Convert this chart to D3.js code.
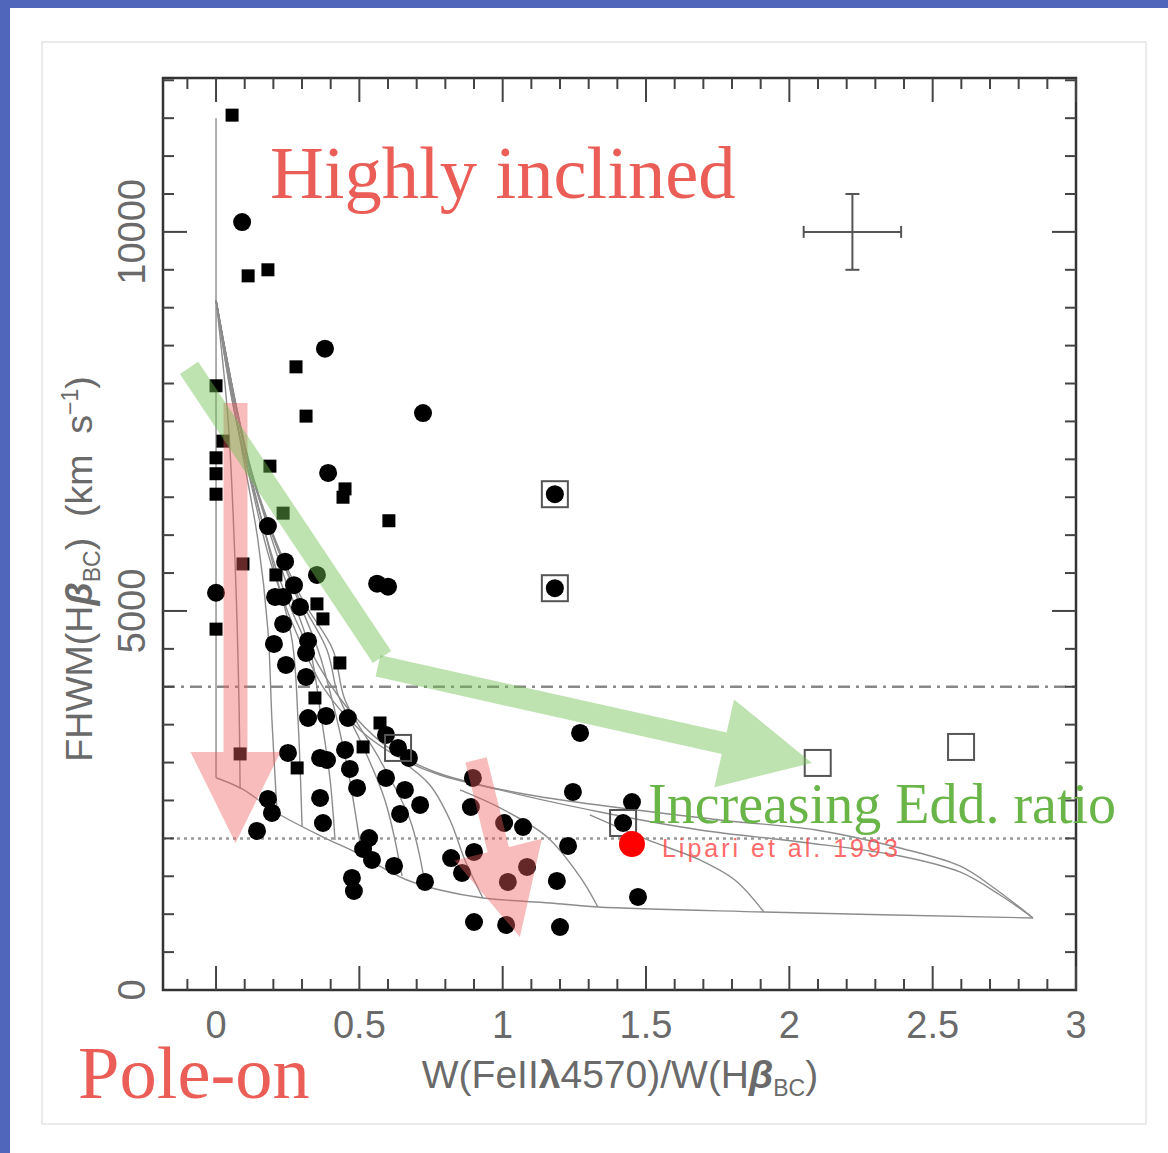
<!DOCTYPE html>
<html>
<head>
<meta charset="utf-8">
<script src="https://cdn.jsdelivr.net/npm/d3@7"></script>
<style>
  body { margin: 0; background: #fff; }
  text { white-space: pre; }
</style>
</head>
<body>
<script>
// values: x = W(FeII 4570)/W(Hb BC), y = FWHM(Hb BC) km/s
var squares = [
  [0.056, 11540], [0.112, 9420], [0.181, 9500], [0.279, 8220], [0.314, 7570],
  [0.0, 7970], [0.024, 7240], [0.0, 7020], [0.0, 6810], [0.0, 6540],
  [0.188, 6910], [0.234, 6290], [0.450, 6610], [0.443, 6500], [0.603, 6190],
  [0.094, 5620], [0.0, 4760], [0.209, 5475], [0.352, 5093], [0.373, 4895],
  [0.432, 4314], [0.345, 3852], [0.572, 3522], [0.513, 3206], [0.084, 3114],
  [0.283, 2929]
];

var circles = [
  [0.091, 10130], [0.380, 8460], [0.722, 7610], [0.391, 6820], [1.182, 6540],
  [1.182, 5300], [0.0, 5240], [0.181, 6120], [0.241, 5650], [0.352, 5475],
  [0.562, 5360], [0.600, 5320], [0.272, 5340], [0.206, 5185], [0.234, 5185],
  [0.293, 5053], [0.234, 4829], [0.202, 4565], [0.321, 4604], [0.314, 4446],
  [0.244, 4288], [0.314, 4129], [0.321, 3588], [0.384, 3615], [0.460, 3588],
  [0.593, 3364], [0.635, 3193], [0.673, 3061], [0.251, 3127], [0.363, 3061],
  [0.387, 3034], [0.450, 3166], [0.467, 2916], [0.492, 2665], [0.593, 2797],
  [0.659, 2639], [0.712, 2441], [0.642, 2322], [0.181, 2520], [0.195, 2335],
  [0.143, 2098], [0.363, 2533], [0.373, 2203], [0.534, 2005], [0.513, 1860],
  [0.544, 1715], [0.621, 1636], [0.729, 1425], [0.474, 1478], [0.481, 1306],
  [0.820, 1741], [0.858, 1544], [0.896, 2797], [0.889, 2414], [0.900, 1821],
  [1.005, 2203], [1.071, 2150], [1.018, 1425], [1.085, 1623], [0.900, 897],
  [1.012, 858], [1.270, 3391], [1.245, 2612], [1.451, 2480], [1.420, 2203],
  [1.228, 1900], [1.189, 1438], [1.472, 1227], [1.200, 831]
];

var boxed = [[1.182, 6540], [1.182, 5300], [1.420, 2203], [0.635, 3193]];
var openSquares = [[2.099, 2995], [2.599, 3206]];
var lipariPoint = [1.451, 1926];

var errCenter = [2.22, 10000];
var errHalf = [0.17, 500];

var dashDotLevel = 4000;
var dottedLevel = 2000;

// model grid
var vertLine = [[0, 11500], [0, 2800]];
var bottomCurve = [[0, 2800], [0.091, 2652], [0.213, 2335], [0.373, 2018], [0.492, 1807],
  [0.582, 1610], [0.666, 1451], [0.781, 1319], [0.931, 1214], [1.165, 1148],
  [1.332, 1095], [1.911, 1029], [2.85, 950]];
var upper1 = [[0, 9100], [0.056, 7784], [0.119, 6728], [0.188, 5673], [0.276, 4749],
  [0.380, 3958], [0.502, 3430], [0.642, 3061], [0.781, 2836], [1.095, 2573],
  [1.758, 2243], [2.093, 2111], [2.386, 1873], [2.595, 1636], [2.714, 1346], [2.85, 950]];
var upper2 = [[0, 9100], [0.070, 7520], [0.140, 6465], [0.223, 5409], [0.328, 4486],
  [0.450, 3760], [0.589, 3232], [0.746, 2902], [0.991, 2639], [1.339, 2348],
  [1.688, 2111], [2.037, 1953], [2.386, 1768], [2.595, 1557], [2.735, 1253], [2.85, 950]];
var fan1 = [[0, 9100], [0.042, 7520], [0.066, 5673], [0.080, 3826], [0.084, 2652]];
var fan2 = [[0, 9100], [0.084, 7256], [0.146, 5937], [0.181, 4749], [0.195, 3562], [0.213, 2335]];
var fan3 = [[0, 9100], [0.101, 7124], [0.195, 5673], [0.265, 4618], [0.286, 3562], [0.300, 2163]];
var fan4 = [[0, 9100], [0.112, 6992], [0.230, 5541], [0.328, 4486], [0.363, 3694], [0.398, 2770], [0.415, 1979]];
var fan5 = [[0, 9100], [0.119, 6860], [0.258, 5409], [0.356, 4486], [0.405, 3826], [0.460, 2902], [0.509, 1768]];
var fan6 = [[0, 9100], [0.126, 6794], [0.276, 5277], [0.387, 4486], [0.426, 3892], [0.502, 3298], [0.589, 2507], [0.649, 1504]];
var fan7 = [[0, 9100], [0.133, 6728], [0.293, 5211], [0.408, 4486], [0.450, 3826], [0.572, 3034], [0.677, 2243], [0.729, 1398]];
var fan8 = [[0.642, 3034], [0.746, 2705], [0.816, 2243], [0.868, 1715], [0.931, 1214]];
var fan9 = [[0.851, 2639], [0.991, 2401], [1.155, 2018], [1.270, 1491], [1.332, 1095]];
var fan10 = [[1.304, 2309], [1.507, 1979], [1.688, 1715], [1.810, 1451], [1.911, 1029]];

var modelCurves = [vertLine, bottomCurve, upper1, upper2, fan1, fan2, fan3, fan4,
  fan5, fan6, fan7, fan8, fan9, fan10];

var xTickLabels = [0, 0.5, 1, 1.5, 2, 2.5, 3];
var yTickLabels = [0, 5000, 10000];

// annotation arrows (start, tip) in data units
var redArrow1 = [[0.068, 7744], [0.068, 1939]];
var redArrow2 = [[0.907, 3034], [1.060, 699]];
var greenBand = [[-0.094, 8206], [0.579, 4393]];
var greenArrow = [[0.565, 4275], [2.079, 2995]];

var W = 1168, H = 1153;
var svg = d3.select("body").append("svg")
  .attr("width", W).attr("height", H).style("display", "block");

svg.append("rect").attr("width", W).attr("height", H).attr("fill", "#fff");
svg.append("rect").attr("width", W).attr("height", 8).attr("fill", "#4f66bb");
svg.append("rect").attr("width", 10).attr("height", H).attr("fill", "#4f66bb");
svg.append("rect").attr("x", 42).attr("y", 42).attr("width", 1104).attr("height", 1082)
  .attr("fill", "none").attr("stroke", "#e4e4e4").attr("stroke-width", 1.5);

var x = d3.scaleLinear().domain([-0.185, 3.0]).range([163, 1076]);
var y = d3.scaleLinear().domain([0, 12030]).range([990, 78]);

// model grid lines
var line = d3.line().x(function(d) { return x(d[0]); }).y(function(d) { return y(d[1]); })
  .curve(d3.curveCatmullRom.alpha(0.5));
svg.append("g").selectAll("path").data(modelCurves).join("path")
  .attr("d", line).attr("fill", "none")
  .attr("stroke", "#8c8c8c").attr("stroke-width", 1.4);

// reference levels
svg.append("line").attr("x1", x(-0.185)).attr("x2", x(3.0))
  .attr("y1", y(dashDotLevel)).attr("y2", y(dashDotLevel))
  .attr("stroke", "#888").attr("stroke-width", 2.5).attr("stroke-dasharray", "12,6,3,6");
svg.append("line").attr("x1", x(-0.185)).attr("x2", x(3.0))
  .attr("y1", y(dottedLevel)).attr("y2", y(dottedLevel))
  .attr("stroke", "#999").attr("stroke-width", 2.5).attr("stroke-dasharray", "3,4");

// frame and ticks
svg.append("rect").attr("x", 163).attr("y", 78).attr("width", 913).attr("height", 912)
  .attr("fill", "none").attr("stroke", "#333").attr("stroke-width", 2.5);

var ticks = svg.append("g").attr("stroke", "#444").attr("stroke-width", 2);
var xt = d3.range(-1, 31).map(function(i) { return i / 10; });
xt.forEach(function(v) {
  var major = (Math.round(v * 10) % 5 === 0);
  var len = major ? 24 : 11;
  ticks.append("line").attr("x1", x(v)).attr("x2", x(v)).attr("y1", 990).attr("y2", 990 - len);
  ticks.append("line").attr("x1", x(v)).attr("x2", x(v)).attr("y1", 78).attr("y2", 78 + len);
});
var yt = d3.range(1, 25).map(function(i) { return i * 500; });
yt.forEach(function(v) {
  if (v > 12030) return;
  var major = (v % 5000 === 0);
  var len = major ? 24 : 11;
  ticks.append("line").attr("y1", y(v)).attr("y2", y(v)).attr("x1", 163).attr("x2", 163 + len);
  ticks.append("line").attr("y1", y(v)).attr("y2", y(v)).attr("x1", 1076).attr("x2", 1076 - len);
});

// tick labels
svg.append("g").selectAll("text").data(xTickLabels).join("text")
  .attr("x", function(d) { return x(d); }).attr("y", 1038)
  .attr("text-anchor", "middle").attr("font-family", "Liberation Sans, Arial, sans-serif")
  .attr("font-size", 38).attr("fill", "#6a6a6a")
  .text(function(d) { return d; });
svg.append("g").selectAll("text").data(yTickLabels).join("text")
  .attr("transform", function(d) { return "translate(145," + y(d) + ") rotate(-90)"; })
  .attr("text-anchor", "middle").attr("font-family", "Liberation Sans, Arial, sans-serif")
  .attr("font-size", 38).attr("fill", "#6a6a6a")
  .text(function(d) { return d; });

// axis titles
var xTitle = svg.append("text").attr("x", 620).attr("y", 1088).attr("text-anchor", "middle")
  .attr("font-family", "Liberation Sans, Arial, sans-serif").attr("font-size", 39).attr("fill", "#6a6a6a");
xTitle.append("tspan").text("W(FeII");
xTitle.append("tspan").attr("font-weight", "bold").text("λ");
xTitle.append("tspan").text("4570)/W(H");
xTitle.append("tspan").attr("font-weight", "bold").attr("font-style", "italic").text("β");
xTitle.append("tspan").attr("font-size", 23).attr("dy", 8).text("BC");
xTitle.append("tspan").attr("dy", -8).text(")");

var yTitle = svg.append("text").attr("transform", "translate(92,569) rotate(-90)")
  .attr("text-anchor", "middle")
  .attr("font-family", "Liberation Sans, Arial, sans-serif").attr("font-size", 37.5).attr("fill", "#6a6a6a");
yTitle.append("tspan").text("FHWM(H");
yTitle.append("tspan").attr("font-weight", "bold").attr("font-style", "italic").text("β");
yTitle.append("tspan").attr("font-size", 23).attr("dy", 8).text("BC");
yTitle.append("tspan").attr("dy", -8).text(")  (km  s");
yTitle.append("tspan").attr("font-size", 23).attr("dy", -14).text("−1");
yTitle.append("tspan").attr("dy", 14).text(")");

// data points
svg.append("g").selectAll("rect").data(squares).join("rect")
  .attr("x", function(d) { return x(d[0]) - 6.5; }).attr("y", function(d) { return y(d[1]) - 6.5; })
  .attr("width", 13).attr("height", 13).attr("fill", "#000");
svg.append("g").selectAll("circle").data(circles).join("circle")
  .attr("cx", function(d) { return x(d[0]); }).attr("cy", function(d) { return y(d[1]); })
  .attr("r", 9).attr("fill", "#000");
svg.append("g").selectAll("rect").data(boxed.concat(openSquares)).join("rect")
  .attr("x", function(d) { return x(d[0]) - 13; }).attr("y", function(d) { return y(d[1]) - 13; })
  .attr("width", 26).attr("height", 26)
  .attr("fill", "none").attr("stroke", "#555").attr("stroke-width", 2);

// typical error bar
var eb = svg.append("g").attr("stroke", "#555").attr("stroke-width", 2);
var ex = x(errCenter[0]), ey = y(errCenter[1]);
var exl = x(errCenter[0] - errHalf[0]), exr = x(errCenter[0] + errHalf[0]);
var eyt = y(errCenter[1] + errHalf[1]), eyb = y(errCenter[1] - errHalf[1]);
eb.append("line").attr("x1", exl).attr("x2", exr).attr("y1", ey).attr("y2", ey);
eb.append("line").attr("x1", ex).attr("x2", ex).attr("y1", eyt).attr("y2", eyb);
eb.append("line").attr("x1", exl).attr("x2", exl).attr("y1", ey - 6).attr("y2", ey + 6);
eb.append("line").attr("x1", exr).attr("x2", exr).attr("y1", ey - 6).attr("y2", ey + 6);
eb.append("line").attr("x1", ex - 7).attr("x2", ex + 7).attr("y1", eyt).attr("y2", eyt);
eb.append("line").attr("x1", ex - 7).attr("x2", ex + 7).attr("y1", eyb).attr("y2", eyb);

// Lipari et al. 1993 object
svg.append("circle").attr("cx", x(lipariPoint[0])).attr("cy", y(lipariPoint[1]))
  .attr("r", 13).attr("fill", "#ff0000");
svg.append("text").attr("x", x(lipariPoint[0]) + 30).attr("y", y(lipariPoint[1]) + 13)
  .attr("font-family", "Liberation Sans, Arial, sans-serif").attr("font-size", 25)
  .attr("letter-spacing", 3).attr("fill", "#ff4545").attr("opacity", 0.8)
  .text("Lipari et al. 1993");

// annotation arrows
function arrowPath(seg, w, hw, hl) {
  var p0 = [x(seg[0][0]), y(seg[0][1])], p1 = [x(seg[1][0]), y(seg[1][1])];
  var dx = p1[0] - p0[0], dy = p1[1] - p0[1], L = Math.sqrt(dx * dx + dy * dy);
  var u = [dx / L, dy / L], n = [-u[1], u[0]];
  var b = [p1[0] - u[0] * hl, p1[1] - u[1] * hl];
  function off(p, k) { return [p[0] + n[0] * k, p[1] + n[1] * k]; }
  var pts = hl > 0
    ? [off(p0, w / 2), off(b, w / 2), off(b, hw / 2), p1, off(b, -hw / 2), off(b, -w / 2), off(p0, -w / 2)]
    : [off(p0, w / 2), off(p1, w / 2), off(p1, -w / 2), off(p0, -w / 2)];
  return "M" + pts.map(function(p) { return p[0].toFixed(1) + "," + p[1].toFixed(1); }).join("L") + "Z";
}
var red = "rgb(238,95,95)", green = "rgb(110,190,80)";
svg.append("path").attr("d", arrowPath(redArrow1, 24, 90, 91)).attr("fill", red).attr("opacity", 0.42);
svg.append("path").attr("d", arrowPath(redArrow2, 22, 90, 90)).attr("fill", red).attr("opacity", 0.42);
svg.append("path").attr("d", arrowPath(greenBand, 22, 0, 0)).attr("fill", green).attr("opacity", 0.45);
svg.append("path").attr("d", arrowPath(greenArrow, 22, 90, 90)).attr("fill", green).attr("opacity", 0.45);

// slide labels
svg.append("text").attr("x", 270).attr("y", 198)
  .attr("font-family", "Liberation Serif, Times New Roman, serif").attr("font-size", 74.5)
  .attr("fill", "#eb5d57").text("Highly inclined");
svg.append("text").attr("x", 78).attr("y", 1098)
  .attr("font-family", "Liberation Serif, Times New Roman, serif").attr("font-size", 74.5)
  .attr("fill", "#eb5d57").text("Pole-on");
svg.append("text").attr("x", 648).attr("y", 823)
  .attr("font-family", "Liberation Serif, Times New Roman, serif").attr("font-size", 56)
  .attr("fill", "#6ab547").text("Increasing Edd. ratio");
</script>
</body>
</html>
